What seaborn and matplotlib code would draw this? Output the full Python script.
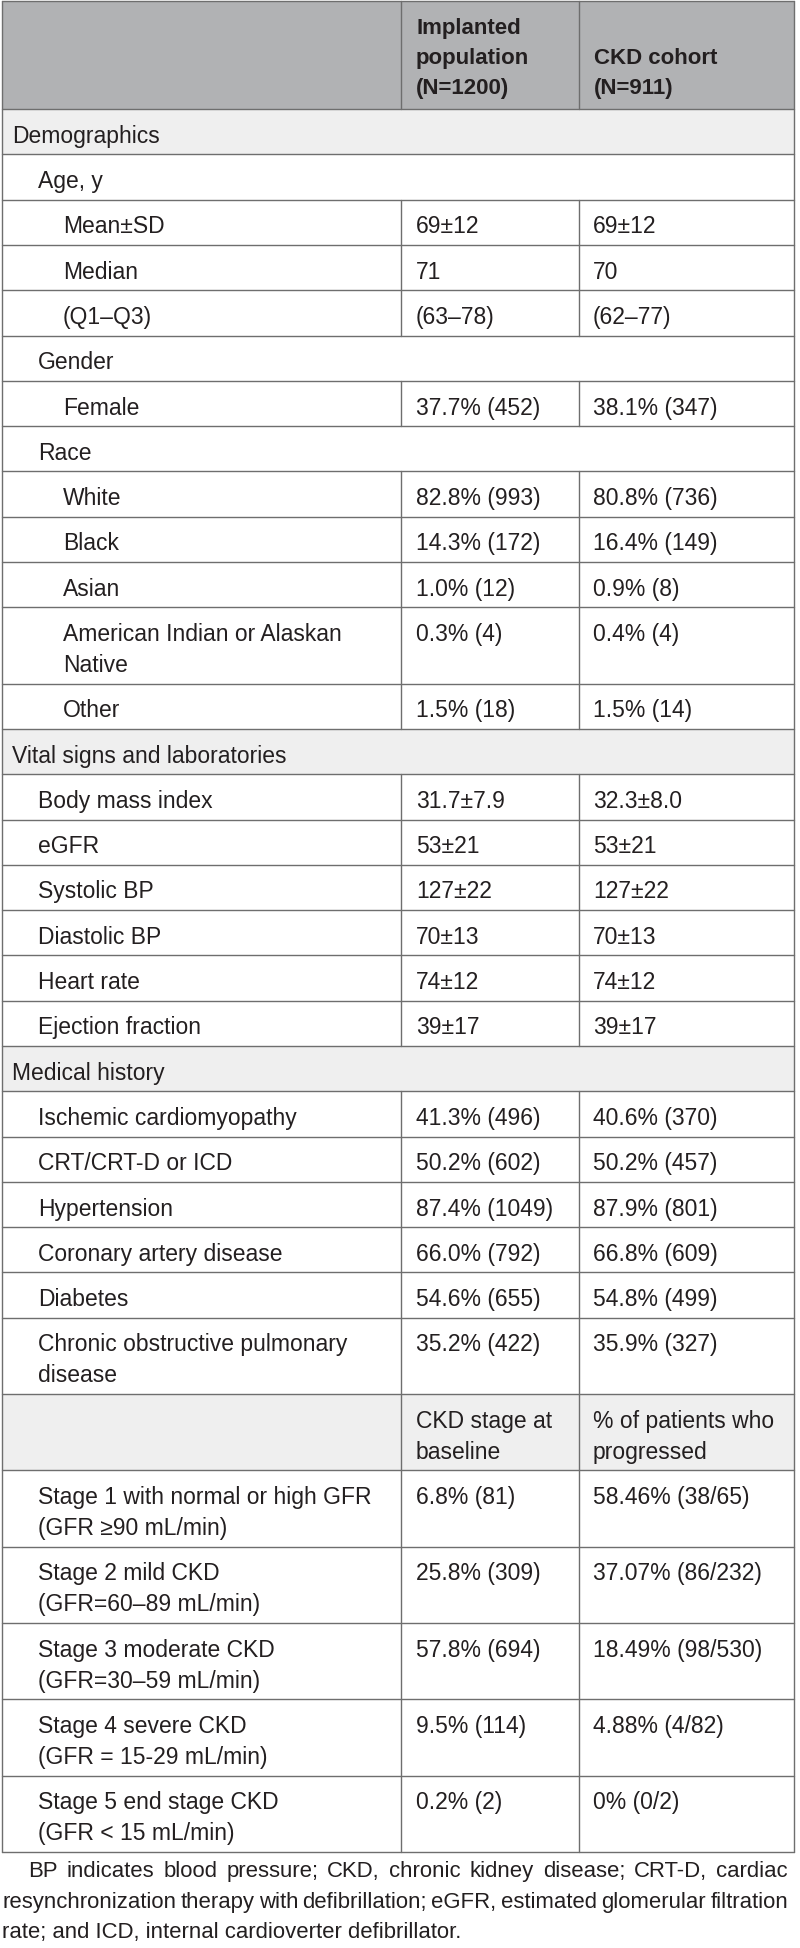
import matplotlib.pyplot as plt
import seaborn as sns
from matplotlib.patches import Rectangle

## Table content
col_headers = ["Implanted\npopulation\n(N=1200)", "CKD cohort\n(N=911)"]

row_labels = [
    "Demographics", "Age, y", "Mean±SD", "Median", "(Q1–Q3)", "Gender", "Female",
    "Race", "White", "Black", "Asian", "American Indian or Alaskan\nNative", "Other",
    "Vital signs and laboratories", "Body mass index", "eGFR", "Systolic BP",
    "Diastolic BP", "Heart rate", "Ejection fraction",
    "Medical history", "Ischemic cardiomyopathy", "CRT/CRT-D or ICD", "Hypertension",
    "Coronary artery disease", "Diabetes", "Chronic obstructive pulmonary\ndisease",
    "",
    "Stage 1 with normal or high GFR\n(GFR ≥90 mL/min)",
    "Stage 2 mild CKD\n(GFR=60–89 mL/min)",
    "Stage 3 moderate CKD\n(GFR=30–59 mL/min)",
    "Stage 4 severe CKD\n(GFR = 15-29 mL/min)",
    "Stage 5 end stage CKD\n(GFR < 15 mL/min)",
]

# section = grey band, group = white full-width row, item = row with values, subhead = grey row with values
row_kinds = [
    "section", "group", "item", "item", "item", "group", "item",
    "group", "item", "item", "item", "item", "item",
    "section", "item", "item", "item", "item", "item", "item",
    "section", "item", "item", "item", "item", "item", "item",
    "subhead", "item", "item", "item", "item", "item",
]

row_levels = [
    0, 1, 2, 2, 2, 1, 2,
    1, 2, 2, 2, 2, 2,
    0, 1, 1, 1, 1, 1, 1,
    0, 1, 1, 1, 1, 1, 1,
    1, 1, 1, 1, 1, 1,
]

implanted = [
    "", "", "69±12", "71", "(63–78)", "", "37.7% (452)",
    "", "82.8% (993)", "14.3% (172)", "1.0% (12)", "0.3% (4)", "1.5% (18)",
    "", "31.7±7.9", "53±21", "127±22", "70±13", "74±12", "39±17",
    "", "41.3% (496)", "50.2% (602)", "87.4% (1049)", "66.0% (792)", "54.6% (655)", "35.2% (422)",
    "CKD stage at\nbaseline", "6.8% (81)", "25.8% (309)", "57.8% (694)", "9.5% (114)", "0.2% (2)",
]

ckd_cohort = [
    "", "", "69±12", "70", "(62–77)", "", "38.1% (347)",
    "", "80.8% (736)", "16.4% (149)", "0.9% (8)", "0.4% (4)", "1.5% (14)",
    "", "32.3±8.0", "53±21", "127±22", "70±13", "74±12", "39±17",
    "", "40.6% (370)", "50.2% (457)", "87.9% (801)", "66.8% (609)", "54.8% (499)", "35.9% (327)",
    "% of patients who\nprogressed", "58.46% (38/65)", "37.07% (86/232)", "18.49% (98/530)",
    "4.88% (4/82)", "0% (0/2)",
]

footnote_lines = [
    "BP indicates blood pressure; CKD, chronic kidney disease; CRT-D, cardiac",
    "resynchronization therapy with defibrillation; eGFR, estimated glomerular filtration",
    "rate; and ICD, internal cardioverter defibrillator.",
]

## Layout
W, H = 800, 1949
x_left, x_c1, x_c2, x_right = 1.5, 401, 579, 794
indent = [12, 38, 63]
header_top, header_bot = 1.5, 110
single_h, double_h = 45.3, 76.3
first_base, line_gap = 32.7, 31
fs_body, fs_head, fs_note = 16.5, 16.0, 15.9
text_col = "#231f20"
line_col = "#6e6e6e"
lw = 1.0
header_fill = "#b1b2b4"
band_fill = "#efefef"

sns.set_theme(style="white")
plt.rcParams['font.family'] = ['Liberation Sans', 'DejaVu Sans']

fig = plt.figure(figsize=(W / 100, H / 100), dpi=100)
ax = fig.add_axes([0, 0, 1, 1])
ax.set_xlim(0, W)
ax.set_ylim(H, 0)
ax.axis('off')

# header
ax.add_patch(Rectangle((x_left, header_top), x_right - x_left, header_bot - header_top,
                       facecolor=header_fill, edgecolor='none'))
for xc, txt in zip([x_c1, x_c2], col_headers):
    lines = txt.split("\n")
    # header text sits on the bottom of the cell
    for k, ln in enumerate(lines):
        yb = header_top + first_base + (3 - len(lines) + k) * 30
        ax.text(xc + 15, yb, ln, fontsize=fs_head, fontweight='bold', color=text_col, va='baseline')
for xc in [x_c1, x_c2]:
    ax.plot([xc, xc], [header_top, header_bot], color=line_col, lw=lw)
ax.plot([x_left, x_right], [header_bot, header_bot], color=line_col, lw=lw)

# body rows
y = header_bot
for label, kind, lev, v1, v2 in zip(row_labels, row_kinds, row_levels, implanted, ckd_cohort):
    n_lines = max(s.count("\n") + 1 for s in (label, v1, v2))
    h = single_h if n_lines == 1 else double_h
    if kind in ("section", "subhead"):
        ax.add_patch(Rectangle((x_left, y), x_right - x_left, h, facecolor=band_fill, edgecolor='none'))
    for xt, s in [(indent[lev], label), (x_c1 + 15, v1), (x_c2 + 14, v2)]:
        for k, ln in enumerate(s.split("\n")):
            if ln:
                ax.text(xt, y + first_base + k * line_gap, ln, fontsize=fs_body,
                        color=text_col, va='baseline')
    if kind in ("item", "subhead"):
        for xc in [x_c1, x_c2]:
            ax.plot([xc, xc], [y, y + h], color=line_col, lw=lw)
    y += h
    ax.plot([x_left, x_right], [y, y], color=line_col, lw=lw)
table_bot = y

# outer frame
ax.plot([x_left, x_left], [header_top, table_bot], color=line_col, lw=lw)
ax.plot([x_right, x_right], [header_top, table_bot], color=line_col, lw=lw)
ax.plot([x_left, x_right], [header_top, header_top], color=line_col, lw=lw)

# footnote, justified
fig.canvas.draw()
renderer = fig.canvas.get_renderer()

def word_width(w):
    t = ax.text(0, 0, w, fontsize=fs_note)
    wd = t.get_window_extent(renderer=renderer).width
    t.remove()
    return wd

note_right = 788
for k, ln in enumerate(footnote_lines):
    yb = table_bot + 24.5 + k * 30.5
    x0 = 28 if k == 0 else 2
    words = ln.split(" ")
    if k == len(footnote_lines) - 1:
        ax.text(x0, yb, ln, fontsize=fs_note, color=text_col, va='baseline')
        continue
    widths = [word_width(w) for w in words]
    gap = (note_right - x0 - sum(widths)) / (len(words) - 1)
    xw = x0
    for w, wd in zip(words, widths):
        ax.text(xw, yb, w, fontsize=fs_note, color=text_col, va='baseline')
        xw += wd + gap

fig.savefig("out.png", dpi=100, facecolor='white')
